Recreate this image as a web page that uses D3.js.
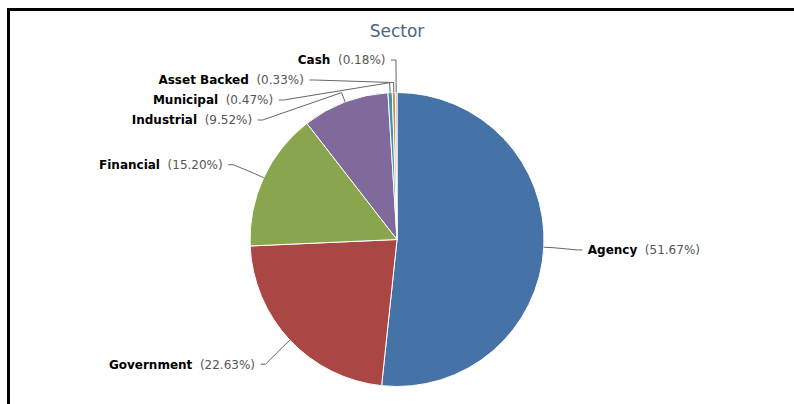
<!DOCTYPE html>
<html>
<head>
<meta charset="utf-8">
<script src="https://cdnjs.cloudflare.com/ajax/libs/d3/7.8.5/d3.min.js"></script>
<style>
  html, body { margin: 0; padding: 0; background: #fff; }
  svg { display: block; }
</style>
</head>
<body>
<svg id="chart" width="794" height="404"></svg>
<script>
const title = "Sector";
const categories = ["Agency", "Government", "Financial", "Industrial", "Municipal", "Asset Backed", "Cash"];
const values = [51.67, 22.63, 15.20, 9.52, 0.47, 0.33, 0.18];
const colors = ["#4572A7", "#AA4643", "#89A54E", "#80699B", "#3D96AE", "#DB843D", "#92A8CD"];

const W = 794, H = 404;
const cx = 397, cy = 239.5, r = 147;
const labelCy = cy + 1;
const labelDist = 33.5, connectorBend = 10, labelSpacing = 20;
const R = r + labelDist;

const svg = d3.select("#chart");

// frame (left and top border)
svg.append("path")
  .attr("d", `M8.5,${H} V9.5 H${W}`)
  .attr("fill", "none").attr("stroke", "#000").attr("stroke-width", 3);

svg.append("text")
  .attr("x", cx).attr("y", 37)
  .attr("text-anchor", "middle")
  .attr("font-family", "DejaVu Sans, Verdana, sans-serif")
  .attr("font-size", 17)
  .attr("fill", "#4a6584")
  .text(title);

const data = categories.map((c, i) => ({ name: c, value: values[i], color: colors[i] }));
const pie = d3.pie().sort(null).value(d => d.value).startAngle(0).endAngle(2 * Math.PI);
const arcs = pie(data);
const arc = d3.arc().innerRadius(0).outerRadius(r);

const g = svg.append("g").attr("transform", `translate(${cx},${cy})`);
g.selectAll("path.slice").data(arcs).enter().append("path")
  .attr("class", "slice")
  .attr("d", arc)
  .attr("fill", d => d.data.color)
  .attr("stroke", "#fff")
  .attr("stroke-width", 1)
  .attr("stroke-linejoin", "round");

// label layout
const labels = arcs.map(d => {
  const a = (d.startAngle + d.endAngle) / 2;
  const pt = rad => [cx + rad * Math.sin(a), cy - rad * Math.cos(a)];
  return {
    d, a,
    side: Math.sin(a) >= 0 ? "right" : "left",
    y: labelCy - R * Math.cos(a),
    bend: pt(r + connectorBend),
    edge: pt(r)
  };
});
["left", "right"].forEach(side => {
  const ls = labels.filter(l => l.side === side).sort((p, q) => p.y - q.y);
  for (let i = 1; i < ls.length; i++) {
    if (ls[i].y < ls[i - 1].y + labelSpacing) ls[i].y = ls[i - 1].y + labelSpacing;
  }
});
labels.forEach(l => {
  const dy = l.y - labelCy;
  const dx = Math.sqrt(Math.max(0, R * R - dy * dy));
  l.x = l.side === "right" ? cx + dx : cx - dx;
});

const lg = svg.append("g");
lg.selectAll("path.conn").data(labels).enter().append("path")
  .attr("class", "conn")
  .attr("fill", "none")
  .attr("stroke", "#666")
  .attr("stroke-width", 1)
  .attr("d", l => {
    const s = l.side === "right" ? 1 : -1;
    return `M${l.x + s * 5},${l.y} L${l.x},${l.y} L${l.bend[0]},${l.bend[1]} L${l.edge[0]},${l.edge[1]}`;
  });

const txt = lg.selectAll("text.lbl").data(labels).enter().append("text")
  .attr("class", "lbl")
  .attr("x", l => l.side === "right" ? l.x + 10.5 : l.x - 10.5)
  .attr("y", l => l.y)
  .attr("dy", "0.36em")
  .attr("text-anchor", l => l.side === "right" ? "start" : "end")
  .attr("font-family", "DejaVu Sans, Verdana, sans-serif")
  .attr("font-size", 12);
txt.append("tspan").attr("font-weight", "bold").attr("fill", "#000").text(l => l.d.data.name);
txt.append("tspan").attr("fill", "#555").attr("dx", 7.6)
  .text(l => `(${l.d.data.value.toFixed(2)}%)`);
</script>
</body>
</html>
